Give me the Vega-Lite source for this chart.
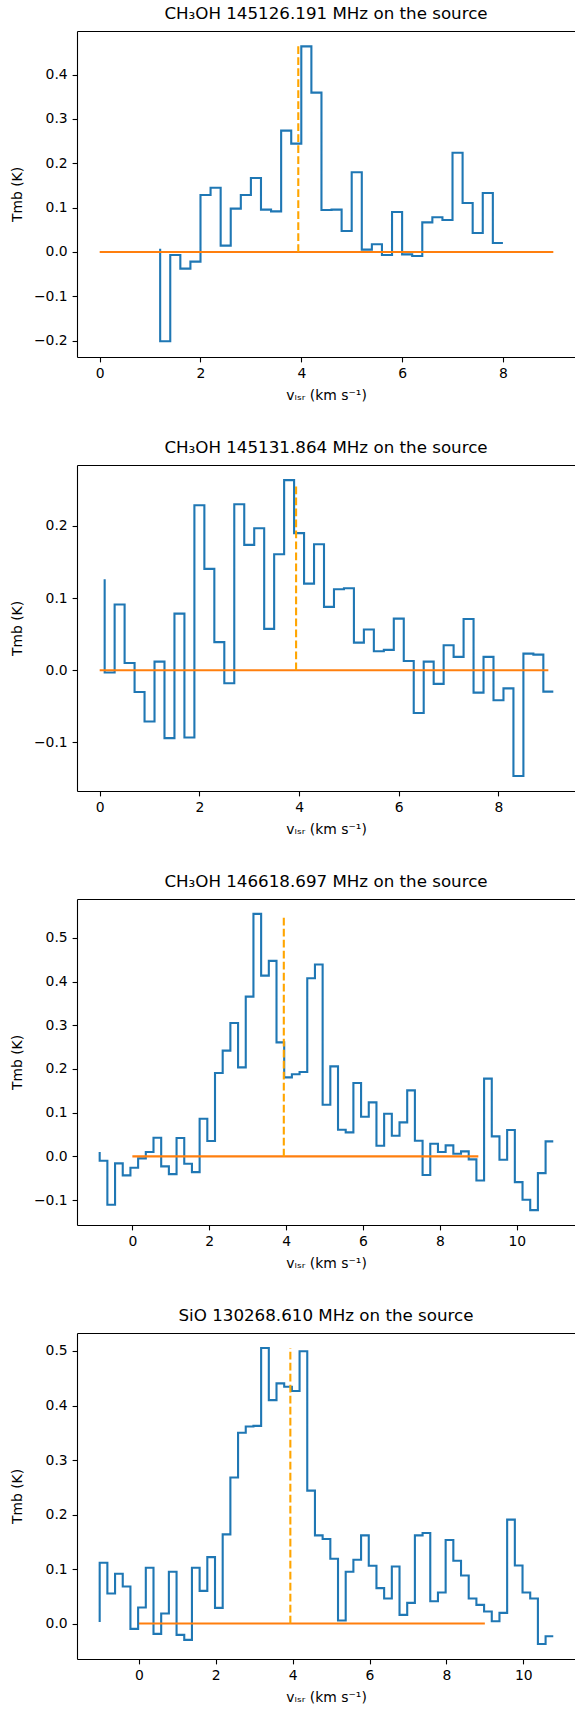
{
  "$schema": "https://vega.github.io/schema/vega-lite/v6.json",
  "background": "white",
  "padding": {"left": 10, "top": 5, "right": 0, "bottom": 0},
  "spacing": 108,
  "bounds": "flush",
  "datasets": {
    "spec": [
      {"p":1,"v":1.2,"t":0.0075},{"p":1,"v":1.4,"t":-0.2015},{"p":1,"v":1.6,"t":-0.0068},{"p":1,"v":1.8,"t":-0.0376},{"p":1,"v":2.0,"t":-0.0218},
      {"p":1,"v":2.2,"t":0.1286},{"p":1,"v":2.4,"t":0.145},{"p":1,"v":2.6,"t":0.0143},{"p":1,"v":2.8,"t":0.0977},{"p":1,"v":3.0,"t":0.1286},
      {"p":1,"v":3.2,"t":0.167},{"p":1,"v":3.4,"t":0.0955},{"p":1,"v":3.6,"t":0.0917},{"p":1,"v":3.8,"t":0.2737},{"p":1,"v":4.0,"t":0.2444},
      {"p":1,"v":4.2,"t":0.4639},{"p":1,"v":4.4,"t":0.3594},{"p":1,"v":4.6,"t":0.0947},{"p":1,"v":4.8,"t":0.0955},{"p":1,"v":5.0,"t":0.0474},
      {"p":1,"v":5.2,"t":0.1797},{"p":1,"v":5.4,"t":0.0053},{"p":1,"v":5.6,"t":0.0173},{"p":1,"v":5.8,"t":-0.0068},{"p":1,"v":6.0,"t":0.0902},
      {"p":1,"v":6.2,"t":-0.0053},{"p":1,"v":6.4,"t":-0.009},{"p":1,"v":6.6,"t":0.0669},{"p":1,"v":6.8,"t":0.0782},{"p":1,"v":7.0,"t":0.0722},
      {"p":1,"v":7.2,"t":0.224},{"p":1,"v":7.4,"t":0.1105},{"p":1,"v":7.6,"t":0.0429},{"p":1,"v":7.8,"t":0.133},{"p":1,"v":8.0,"t":0.0203},

      {"p":2,"v":0.1,"t":0.126},{"p":2,"v":0.3,"t":-0.003},{"p":2,"v":0.5,"t":0.091},{"p":2,"v":0.7,"t":0.010},{"p":2,"v":0.9,"t":-0.030},
      {"p":2,"v":1.1,"t":-0.071},{"p":2,"v":1.3,"t":0.012},{"p":2,"v":1.5,"t":-0.094},{"p":2,"v":1.7,"t":0.0785},{"p":2,"v":1.9,"t":-0.093},
      {"p":2,"v":2.1,"t":0.2286},{"p":2,"v":2.3,"t":0.1404},{"p":2,"v":2.5,"t":0.039},{"p":2,"v":2.7,"t":-0.018},{"p":2,"v":2.9,"t":0.230},
      {"p":2,"v":3.1,"t":0.1737},{"p":2,"v":3.3,"t":0.1968},{"p":2,"v":3.5,"t":0.0573},{"p":2,"v":3.7,"t":0.1607},{"p":2,"v":3.9,"t":0.2633},
      {"p":2,"v":4.1,"t":0.190},{"p":2,"v":4.3,"t":0.120},{"p":2,"v":4.5,"t":0.1746},{"p":2,"v":4.7,"t":0.0878},{"p":2,"v":4.9,"t":0.1122},
      {"p":2,"v":5.1,"t":0.1136},{"p":2,"v":5.3,"t":0.0383},{"p":2,"v":5.5,"t":0.0564},{"p":2,"v":5.7,"t":0.0263},{"p":2,"v":5.9,"t":0.0282},
      {"p":2,"v":6.1,"t":0.0716},{"p":2,"v":6.3,"t":0.0129},{"p":2,"v":6.5,"t":-0.0591},{"p":2,"v":6.7,"t":0.012},{"p":2,"v":6.9,"t":-0.0189},
      {"p":2,"v":7.1,"t":0.0346},{"p":2,"v":7.3,"t":0.0185},{"p":2,"v":7.5,"t":0.0711},{"p":2,"v":7.7,"t":-0.031},{"p":2,"v":7.9,"t":0.0185},
      {"p":2,"v":8.1,"t":-0.0416},{"p":2,"v":8.3,"t":-0.025},{"p":2,"v":8.5,"t":-0.1464},{"p":2,"v":8.7,"t":0.0231},{"p":2,"v":8.9,"t":0.0217},
      {"p":2,"v":9.1,"t":-0.0296},

      {"p":3,"v":-0.85,"t":0.0099},{"p":3,"v":-0.65,"t":-0.0099},{"p":3,"v":-0.45,"t":-0.1107},{"p":3,"v":-0.25,"t":-0.016},{"p":3,"v":-0.05,"t":-0.0435},
      {"p":3,"v":0.15,"t":-0.026},{"p":3,"v":0.35,"t":-0.0046},{"p":3,"v":0.55,"t":0.0099},{"p":3,"v":0.75,"t":0.0427},{"p":3,"v":0.95,"t":-0.0229},
      {"p":3,"v":1.15,"t":-0.0405},{"p":3,"v":1.35,"t":0.042},{"p":3,"v":1.55,"t":-0.0168},{"p":3,"v":1.75,"t":-0.0359},{"p":3,"v":1.95,"t":0.0863},
      {"p":3,"v":2.15,"t":0.0351},{"p":3,"v":2.35,"t":0.1908},{"p":3,"v":2.55,"t":0.242},{"p":3,"v":2.75,"t":0.3053},{"p":3,"v":2.95,"t":0.2038},
      {"p":3,"v":3.15,"t":0.3656},{"p":3,"v":3.35,"t":0.555},{"p":3,"v":3.55,"t":0.4137},{"p":3,"v":3.75,"t":0.4473},{"p":3,"v":3.95,"t":0.261},
      {"p":3,"v":4.15,"t":0.1809},{"p":3,"v":4.35,"t":0.1878},{"p":3,"v":4.55,"t":0.1931},{"p":3,"v":4.75,"t":0.4076},{"p":3,"v":4.95,"t":0.439},
      {"p":3,"v":5.15,"t":0.1183},{"p":3,"v":5.35,"t":0.2061},{"p":3,"v":5.55,"t":0.0611},{"p":3,"v":5.75,"t":0.055},{"p":3,"v":5.95,"t":0.1679},
      {"p":3,"v":6.15,"t":0.0908},{"p":3,"v":6.35,"t":0.1237},{"p":3,"v":6.55,"t":0.0244},{"p":3,"v":6.75,"t":0.0977},{"p":3,"v":6.95,"t":0.0473},
      {"p":3,"v":7.15,"t":0.0779},{"p":3,"v":7.35,"t":0.1511},{"p":3,"v":7.55,"t":0.0359},{"p":3,"v":7.75,"t":-0.0427},{"p":3,"v":7.95,"t":0.029},
      {"p":3,"v":8.15,"t":0.0099},{"p":3,"v":8.35,"t":0.0252},{"p":3,"v":8.55,"t":0.0061},{"p":3,"v":8.75,"t":0.0115},{"p":3,"v":8.95,"t":-0.0069},
      {"p":3,"v":9.15,"t":-0.055},{"p":3,"v":9.35,"t":0.1779},{"p":3,"v":9.55,"t":0.0458},{"p":3,"v":9.75,"t":-0.0076},{"p":3,"v":9.95,"t":0.0603},
      {"p":3,"v":10.15,"t":-0.0588},{"p":3,"v":10.35,"t":-0.0992},{"p":3,"v":10.55,"t":-0.1229},{"p":3,"v":10.75,"t":-0.0382},{"p":3,"v":10.95,"t":0.0344},

      {"p":4,"v":-1.02,"t":0.003},{"p":4,"v":-0.82,"t":0.1115},{"p":4,"v":-0.62,"t":0.0551},{"p":4,"v":-0.42,"t":0.0913},{"p":4,"v":-0.22,"t":0.068},
      {"p":4,"v":-0.02,"t":-0.0098},{"p":4,"v":0.18,"t":0.0294},{"p":4,"v":0.38,"t":0.1023},{"p":4,"v":0.58,"t":-0.019},{"p":4,"v":0.78,"t":0.0184},
      {"p":4,"v":0.98,"t":0.095},{"p":4,"v":1.18,"t":-0.0208},{"p":4,"v":1.38,"t":-0.03},{"p":4,"v":1.58,"t":0.1023},{"p":4,"v":1.78,"t":0.06},
      {"p":4,"v":1.98,"t":0.1219},{"p":4,"v":2.18,"t":0.0288},{"p":4,"v":2.38,"t":0.1636},{"p":4,"v":2.58,"t":0.2678},{"p":4,"v":2.78,"t":0.3499},
      {"p":4,"v":2.98,"t":0.3615},{"p":4,"v":3.18,"t":0.3627},{"p":4,"v":3.38,"t":0.5055},{"p":4,"v":3.58,"t":0.4099},{"p":4,"v":3.78,"t":0.4406},
      {"p":4,"v":3.98,"t":0.4344},{"p":4,"v":4.18,"t":0.4265},{"p":4,"v":4.38,"t":0.4994},{"p":4,"v":4.58,"t":0.2439},{"p":4,"v":4.78,"t":0.1618},
      {"p":4,"v":4.98,"t":0.155},{"p":4,"v":5.18,"t":0.1189},{"p":4,"v":5.38,"t":0.0055},{"p":4,"v":5.58,"t":0.095},{"p":4,"v":5.78,"t":0.117},
      {"p":4,"v":5.98,"t":0.1618},{"p":4,"v":6.18,"t":0.106},{"p":4,"v":6.38,"t":0.065},{"p":4,"v":6.58,"t":0.046},{"p":4,"v":6.78,"t":0.1048},
      {"p":4,"v":6.98,"t":0.0159},{"p":4,"v":7.18,"t":0.038},{"p":4,"v":7.38,"t":0.1618},{"p":4,"v":7.58,"t":0.166},{"p":4,"v":7.78,"t":0.041},
      {"p":4,"v":7.98,"t":0.057},{"p":4,"v":8.18,"t":0.1532},{"p":4,"v":8.38,"t":0.1152},{"p":4,"v":8.58,"t":0.0882},{"p":4,"v":8.78,"t":0.046},
      {"p":4,"v":8.98,"t":0.0343},{"p":4,"v":9.18,"t":0.0221},{"p":4,"v":9.38,"t":0.0043},{"p":4,"v":9.58,"t":0.0196},{"p":4,"v":9.78,"t":0.1906},
      {"p":4,"v":9.98,"t":0.1066},{"p":4,"v":10.18,"t":0.057},{"p":4,"v":10.38,"t":0.046},{"p":4,"v":10.58,"t":-0.0374},{"p":4,"v":10.78,"t":-0.0233}
    ],
    "base": [{"v":0,"t":0},{"v":9,"t":0}],
    "vsys": [
      {"p":1,"v":3.94,"t0":0,"t1":0.4639},
      {"p":2,"v":3.94,"t0":0,"t1":0.259},
      {"p":3,"v":3.94,"t0":0,"t1":0.553},
      {"p":4,"v":3.94,"t0":0,"t1":0.5055}
    ]
  },
  "vconcat": [
    {
      "title": {"text": "CH₃OH 145126.191 MHz on the source"},
      "width": 498, "height": 326,
      "layer": [
        {"data": {"name": "spec"}, "transform": [{"filter": "datum.p == 1"}],
         "mark": {"type": "line", "interpolate": "step-before", "color": "#1f77b4", "strokeWidth": 2.1},
         "encoding": {
           "x": {"field": "v", "type": "quantitative", "scale": {"domain": [-0.45, 9.43], "nice": false, "zero": false},
                 "axis": {"values": [0,2,4,6,8], "format": "d", "title": "vₗₛᵣ (km s⁻¹)", "titleY": 38.4, "titleBaseline": "middle"}},
           "y": {"field": "t", "type": "quantitative", "scale": {"domain": [-0.2369, 0.4985], "nice": false, "zero": false},
                 "axis": {"values": [-0.2,-0.1,0,0.1,0.2,0.3,0.4], "format": ".1f", "title": "Tmb (K)", "titleX": -59.5, "titleBaseline": "middle"}}
         }},
        {"data": {"name": "base"},
         "mark": {"type": "line", "color": "#ff7f0e", "strokeWidth": 2.1},
         "encoding": {
           "x": {"field": "v", "type": "quantitative", "scale": {"domain": [-0.45, 9.43], "nice": false, "zero": false},
                 "axis": {"orient": "top", "labels": false, "ticks": false, "title": null, "domain": true}},
           "y": {"field": "t", "type": "quantitative", "scale": {"domain": [-0.2369, 0.4985], "nice": false, "zero": false}, "axis": null}
         }},
        {"data": {"name": "vsys"}, "transform": [{"filter": "datum.p == 1"}],
         "mark": {"type": "rule", "color": "#ffa500", "strokeWidth": 2.1, "strokeDash": [7.7, 3.3]},
         "encoding": {
           "x": {"field": "v", "type": "quantitative", "scale": {"domain": [-0.45, 9.43], "nice": false, "zero": false}, "axis": null},
           "y": {"field": "t0", "type": "quantitative", "scale": {"domain": [-0.2369, 0.4985], "nice": false, "zero": false}, "axis": null},
           "y2": {"field": "t1"}
         }}
      ],
      "resolve": {"axis": {"x": "independent", "y": "independent"}}
    },
    {
      "title": {"text": "CH₃OH 145131.864 MHz on the source"},
      "width": 498, "height": 326,
      "layer": [
        {"data": {"name": "spec"}, "transform": [{"filter": "datum.p == 2"}],
         "mark": {"type": "line", "interpolate": "step-before", "color": "#1f77b4", "strokeWidth": 2.1},
         "encoding": {
           "x": {"field": "v", "type": "quantitative", "scale": {"domain": [-0.455, 9.535], "nice": false, "zero": false},
                 "axis": {"values": [0,2,4,6,8], "format": "d", "title": "vₗₛᵣ (km s⁻¹)", "titleY": 38.4, "titleBaseline": "middle"}},
           "y": {"field": "t", "type": "quantitative", "scale": {"domain": [-0.1672, 0.2843], "nice": false, "zero": false},
                 "axis": {"values": [-0.1,0,0.1,0.2], "format": ".1f", "title": "Tmb (K)", "titleX": -59.5, "titleBaseline": "middle"}}
         }},
        {"data": {"name": "base"},
         "mark": {"type": "line", "color": "#ff7f0e", "strokeWidth": 2.1},
         "encoding": {
           "x": {"field": "v", "type": "quantitative", "scale": {"domain": [-0.455, 9.535], "nice": false, "zero": false},
                 "axis": {"orient": "top", "labels": false, "ticks": false, "title": null, "domain": true}},
           "y": {"field": "t", "type": "quantitative", "scale": {"domain": [-0.1672, 0.2843], "nice": false, "zero": false}, "axis": null}
         }},
        {"data": {"name": "vsys"}, "transform": [{"filter": "datum.p == 2"}],
         "mark": {"type": "rule", "color": "#ffa500", "strokeWidth": 2.1, "strokeDash": [7.7, 3.3]},
         "encoding": {
           "x": {"field": "v", "type": "quantitative", "scale": {"domain": [-0.455, 9.535], "nice": false, "zero": false}, "axis": null},
           "y": {"field": "t0", "type": "quantitative", "scale": {"domain": [-0.1672, 0.2843], "nice": false, "zero": false}, "axis": null},
           "y2": {"field": "t1"}
         }}
      ],
      "resolve": {"axis": {"x": "independent", "y": "independent"}}
    },
    {
      "title": {"text": "CH₃OH 146618.697 MHz on the source"},
      "width": 498, "height": 326,
      "layer": [
        {"data": {"name": "spec"}, "transform": [{"filter": "datum.p == 3"}],
         "mark": {"type": "line", "interpolate": "step-before", "color": "#1f77b4", "strokeWidth": 2.1},
         "encoding": {
           "x": {"field": "v", "type": "quantitative", "scale": {"domain": [-1.44, 11.515], "nice": false, "zero": false},
                 "axis": {"values": [0,2,4,6,8,10], "format": "d", "title": "vₗₛᵣ (km s⁻¹)", "titleY": 38.4, "titleBaseline": "middle"}},
           "y": {"field": "t", "type": "quantitative", "scale": {"domain": [-0.157, 0.589], "nice": false, "zero": false},
                 "axis": {"values": [-0.1,0,0.1,0.2,0.3,0.4,0.5], "format": ".1f", "title": "Tmb (K)", "titleX": -59.5, "titleBaseline": "middle"}}
         }},
        {"data": {"name": "base"},
         "mark": {"type": "line", "color": "#ff7f0e", "strokeWidth": 2.1},
         "encoding": {
           "x": {"field": "v", "type": "quantitative", "scale": {"domain": [-1.44, 11.515], "nice": false, "zero": false},
                 "axis": {"orient": "top", "labels": false, "ticks": false, "title": null, "domain": true}},
           "y": {"field": "t", "type": "quantitative", "scale": {"domain": [-0.157, 0.589], "nice": false, "zero": false}, "axis": null}
         }},
        {"data": {"name": "vsys"}, "transform": [{"filter": "datum.p == 3"}],
         "mark": {"type": "rule", "color": "#ffa500", "strokeWidth": 2.1, "strokeDash": [7.7, 3.3]},
         "encoding": {
           "x": {"field": "v", "type": "quantitative", "scale": {"domain": [-1.44, 11.515], "nice": false, "zero": false}, "axis": null},
           "y": {"field": "t0", "type": "quantitative", "scale": {"domain": [-0.157, 0.589], "nice": false, "zero": false}, "axis": null},
           "y2": {"field": "t1"}
         }}
      ],
      "resolve": {"axis": {"x": "independent", "y": "independent"}}
    },
    {
      "title": {"text": "SiO 130268.610 MHz on the source"},
      "width": 498, "height": 326,
      "layer": [
        {"data": {"name": "spec"}, "transform": [{"filter": "datum.p == 4"}],
         "mark": {"type": "line", "interpolate": "step-before", "color": "#1f77b4", "strokeWidth": 2.1},
         "encoding": {
           "x": {"field": "v", "type": "quantitative", "scale": {"domain": [-1.61, 11.345], "nice": false, "zero": false},
                 "axis": {"values": [0,2,4,6,8,10], "format": "d", "title": "vₗₛᵣ (km s⁻¹)", "titleY": 38.4, "titleBaseline": "middle"}},
           "y": {"field": "t", "type": "quantitative", "scale": {"domain": [-0.065, 0.533], "nice": false, "zero": false},
                 "axis": {"values": [0,0.1,0.2,0.3,0.4,0.5], "format": ".1f", "title": "Tmb (K)", "titleX": -59.5, "titleBaseline": "middle"}}
         }},
        {"data": {"name": "base"},
         "mark": {"type": "line", "color": "#ff7f0e", "strokeWidth": 2.1},
         "encoding": {
           "x": {"field": "v", "type": "quantitative", "scale": {"domain": [-1.61, 11.345], "nice": false, "zero": false},
                 "axis": {"orient": "top", "labels": false, "ticks": false, "title": null, "domain": true}},
           "y": {"field": "t", "type": "quantitative", "scale": {"domain": [-0.065, 0.533], "nice": false, "zero": false}, "axis": null}
         }},
        {"data": {"name": "vsys"}, "transform": [{"filter": "datum.p == 4"}],
         "mark": {"type": "rule", "color": "#ffa500", "strokeWidth": 2.1, "strokeDash": [7.7, 3.3]},
         "encoding": {
           "x": {"field": "v", "type": "quantitative", "scale": {"domain": [-1.61, 11.345], "nice": false, "zero": false}, "axis": null},
           "y": {"field": "t0", "type": "quantitative", "scale": {"domain": [-0.065, 0.533], "nice": false, "zero": false}, "axis": null},
           "y2": {"field": "t1"}
         }}
      ],
      "resolve": {"axis": {"x": "independent", "y": "independent"}}
    }
  ],
  "config": {
    "font": "DejaVu Sans",
    "view": {"stroke": null},
    "axis": {
      "grid": false, "domainColor": "#000", "domainWidth": 1.1, "tickColor": "#000", "tickWidth": 1.1, "tickSize": 4.9,
      "labelFont": "DejaVu Sans", "labelFontSize": 13.9, "labelColor": "#000", "labelPadding": 4.9,
      "titleFont": "DejaVu Sans", "titleFontSize": 13.9, "titleFontWeight": "normal", "titleColor": "#000",
      "labelFlush": false, "labelOverlap": false
    },
    "title": {"font": "DejaVu Sans", "fontSize": 16.7, "fontWeight": "normal", "color": "#000", "anchor": "middle", "frame": "group", "offset": 8.5, "baseline": "alphabetic"}
  }
}
